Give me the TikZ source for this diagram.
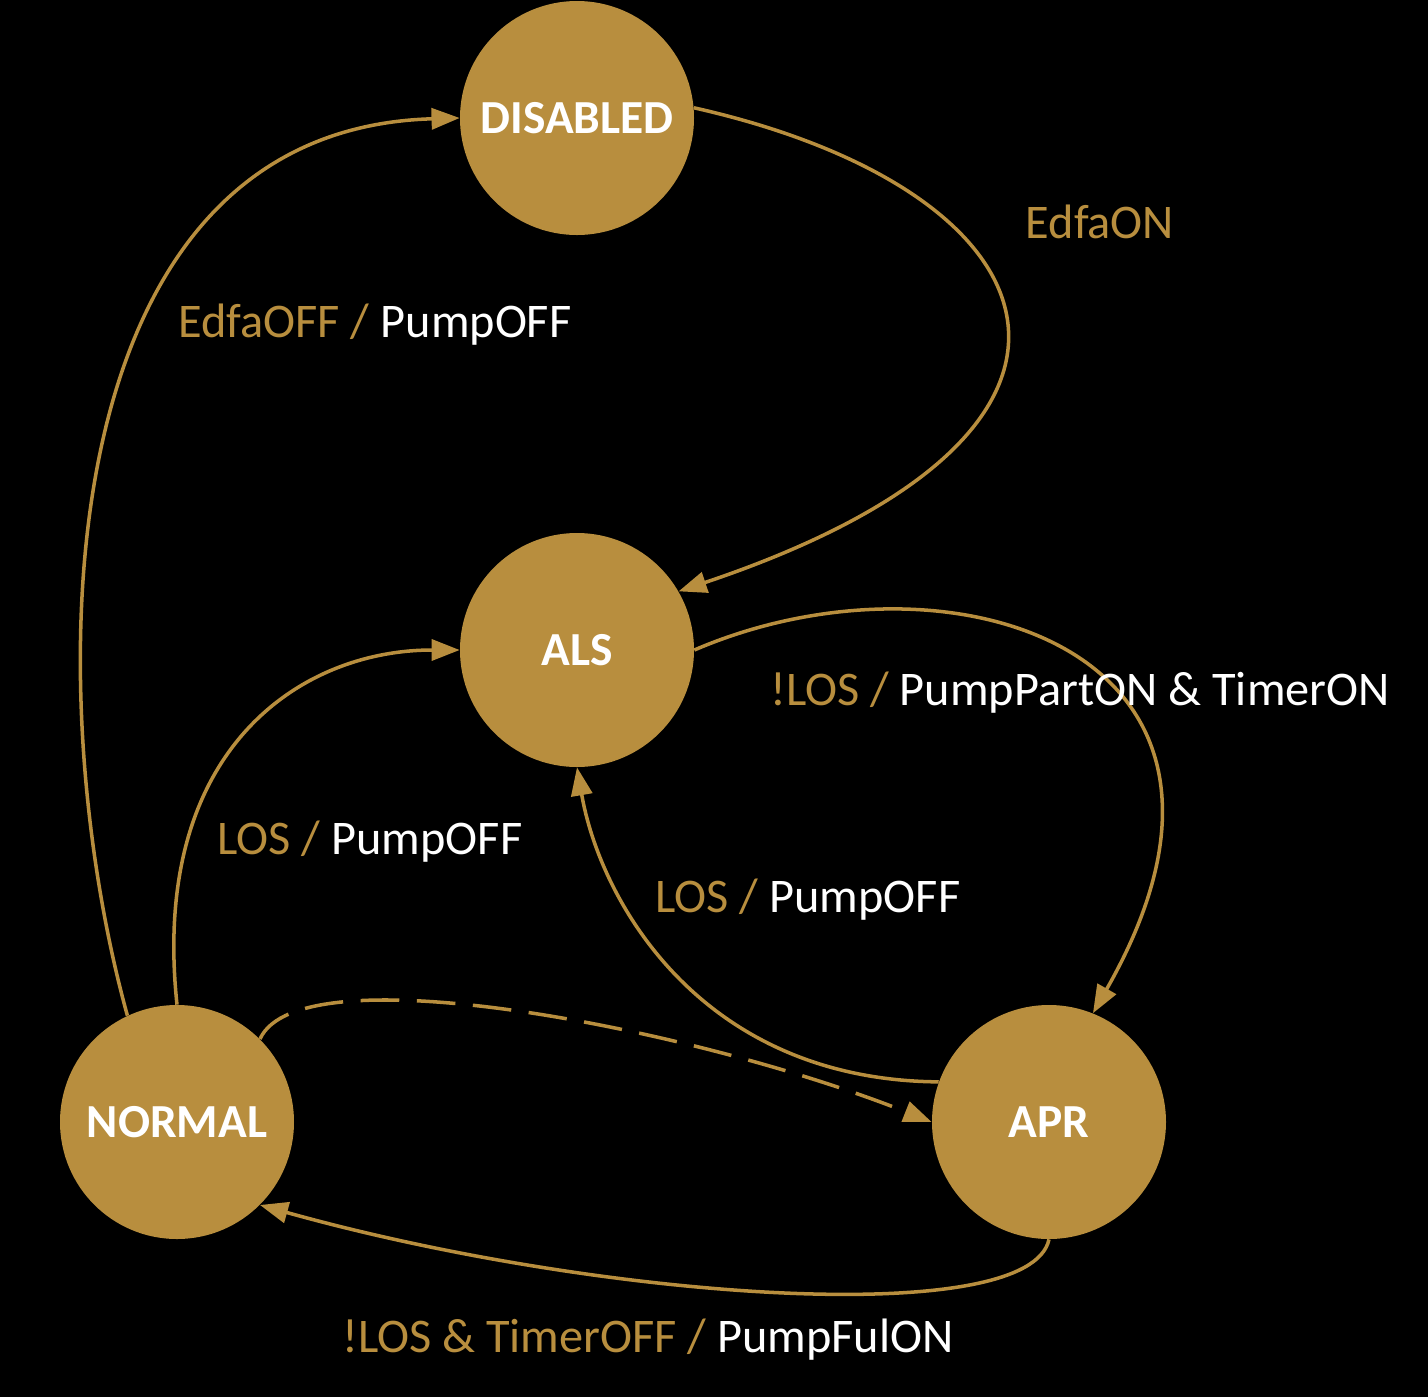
\documentclass[tikz,border=0pt]{standalone}
\usepackage{fontspec}
\setmainfont{Carlito}
\usetikzlibrary{arrows.meta}
\definecolor{gold}{HTML}{B88E3E}
\begin{document}
\begin{tikzpicture}[x=0.02cm,y=-0.02cm,
  st/.style={circle,fill=gold,minimum size=234*0.02cm,inner sep=0,text=white,font=\fontsize{27}{30}\selectfont\bfseries},
  ed/.style={draw=gold,line width=2pt,-{Triangle[length=16pt,width=12pt]}},
  lb/.style={font=\fontsize{27.5}{32}\selectfont,text=white},
  g/.style={text=gold}]
\fill[black] (0,0) rectangle (1428,1397);
\useasboundingbox (0,0) rectangle (1428,1397);
\node[st] (dis) at (577,118) {DISABLED};
\node[st] (als) at (577,650) {ALS};
\node[st] (nor) at (177,1122) {NORMAL};
\node[st] (apr) at (1049,1122) {APR};
\draw[ed] (nor.115) .. controls (40,700) and (40,130) .. (dis.180);
\draw[ed] (dis.5) .. controls (1060,190) and (1160,430) .. (als.30);
\draw[ed] (nor.90) .. controls (150,750) and (300,650) .. (als.180);
\draw[ed] (als.0) .. controls (950,540) and (1300,650) .. (apr.68);
\draw[ed] (apr.160) .. controls (700,1080) and (600,900) .. (als.270);
\draw[ed,dash pattern=on 22pt off 10pt] (nor.45) .. controls (300,950) and (700,1030) .. (apr.180);
\draw[ed] (apr.270) .. controls (1030,1330) and (600,1300) .. (nor.-45);
\node[lb] (l1) at (375,325) {\textcolor{gold}{EdfaOFF /} PumpOFF};
\node[lb,g] (l2) at (1100,222) {EdfaON};
\node[lb] (l3) at (370,842) {\textcolor{gold}{LOS /} PumpOFF};
\node[lb] (l4) at (1080,693) {\textcolor{gold}{!LOS /} PumpPartON \& TimerON};
\node[lb] (l5) at (808,900) {\textcolor{gold}{LOS /} PumpOFF};
\node[lb] (l6) at (648,1340) {\textcolor{gold}{!LOS \& TimerOFF /} PumpFulON};
\end{tikzpicture}
\end{document}
